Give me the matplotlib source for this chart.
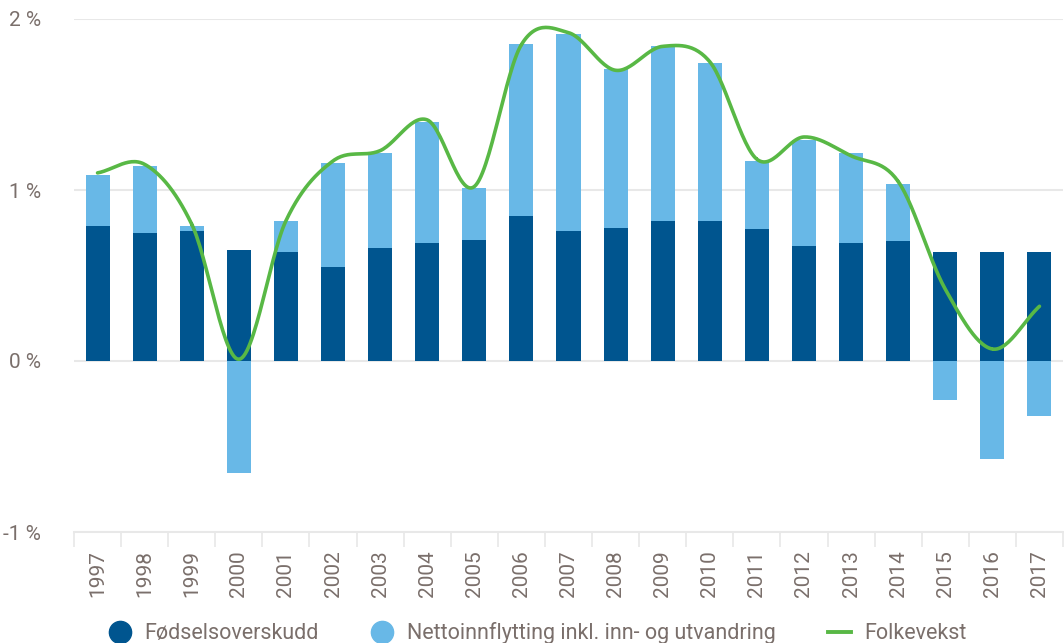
import numpy as np
import matplotlib
matplotlib.use("Agg")
import matplotlib.pyplot as plt
from matplotlib.lines import Line2D

# =====================
#   DATA
# =====================
years = [str(y) for y in range(1997, 2018)]
fodsel = [0.79, 0.75, 0.76, 0.65, 0.64, 0.55, 0.66, 0.69, 0.71, 0.85, 0.76,
          0.78, 0.82, 0.82, 0.77, 0.67, 0.69, 0.70, 0.64, 0.64, 0.64]
netto = [0.30, 0.39, 0.03, -0.655, 0.18, 0.61, 0.555, 0.71, 0.30, 1.005, 1.15,
         0.925, 1.025, 0.925, 0.40, 0.625, 0.525, 0.335, -0.23, -0.575, -0.32]
folkevekst = [1.10, 1.15, 0.80, 0.01, 0.82, 1.17, 1.23, 1.41, 1.02, 1.85, 1.92,
              1.70, 1.84, 1.75, 1.18, 1.31, 1.20, 1.05, 0.42, 0.07, 0.32]
yticks = [-1, 0, 1, 2]
ytick_labels = ["-1 %", "0 %", "1 %", "2 %"]

# =====================
#   STYLE
# =====================
DARK = "#00558f"
LIGHT = "#68b8e7"
GREEN = "#58b845"
TEXT = "#7a6f6b"
GRID = "#e8e8e8"
FS = 15
plt.rcParams['font.family'] = ['Roboto', 'DejaVu Sans']


def catmull_rom(x, y, n=30):
    # smooth curve passing through every point (like a spreadsheet "smoothed line")
    x = np.asarray(x, float)
    y = np.asarray(y, float)
    px = np.concatenate([[2 * x[0] - x[1]], x, [2 * x[-1] - x[-2]]])
    py = np.concatenate([[2 * y[0] - y[1]], y, [2 * y[-1] - y[-2]]])
    xs, ys = [], []
    t = np.linspace(0, 1, n)
    for i in range(1, len(px) - 2):
        for p, out in ((px[i - 1:i + 3], xs), (py[i - 1:i + 3], ys)):
            a, b, c, d = p
            out.append(0.5 * (2 * b + (-a + c) * t + (2 * a - 5 * b + 4 * c - d) * t ** 2
                              + (-a + 3 * b - 3 * c + d) * t ** 3))
    return np.concatenate(xs), np.concatenate(ys)


fig = plt.figure(figsize=(10.64, 6.43), dpi=100)
ax = fig.add_axes([74 / 1064, 1 - 532 / 643, 989 / 1064, (532 - 19) / 643])

x = np.arange(len(years))
fodsel = np.array(fodsel)
netto = np.array(netto)
bottom_netto = np.where(netto >= 0, fodsel, 0)

ax.bar(x, fodsel, width=0.51, color=DARK, zorder=2)
ax.bar(x, netto, width=0.51, bottom=bottom_netto, color=LIGHT, zorder=2)

sx, sy = catmull_rom(x, folkevekst)
ax.plot(sx, sy, color=GREEN, lw=2.6, zorder=3, solid_capstyle='round')

ax.set_xlim(-0.5, len(years) - 0.5)
ax.set_ylim(-1, 2)
ax.set_yticks(yticks)
ax.set_yticklabels(ytick_labels)
ax.yaxis.grid(True, color=GRID, lw=1.5, zorder=0)
ax.set_axisbelow(True)

# category separators below the axis
ax.set_xticks(np.arange(len(years) + 1) - 0.5)
ax.set_xticklabels([])
ax.set_xticks(x, minor=True)
ax.set_xticklabels(years, minor=True, rotation=90)
ax.tick_params(axis='x', which='major', length=11, width=1.2, color=GRID)
ax.tick_params(axis='x', which='minor', length=0, pad=13, labelsize=FS, labelcolor=TEXT)
ax.tick_params(axis='y', length=0, pad=24, labelsize=FS, labelcolor=TEXT)

for s in ["top", "right", "left"]:
    ax.spines[s].set_visible(False)
ax.spines["bottom"].set_color(GRID)
ax.spines["bottom"].set_linewidth(1.5)

handles = [
    Line2D([], [], marker='o', ls='', color=DARK, markersize=16),
    Line2D([], [], marker='o', ls='', color=LIGHT, markersize=16),
    Line2D([], [], color=GREEN, lw=2.8),
]
labels = ["Fødselsoverskudd", "Nettoinnflytting inkl. inn- og utvandring", "Folkevekst"]
leg = fig.legend(handles, labels, loc='lower center', bbox_to_anchor=(0.505, -0.032), ncol=3,
                 frameon=False, fontsize=FS + 0.5, handlelength=1.1, handletextpad=0.6,
                 columnspacing=2.4)
for t in leg.get_texts():
    t.set_color(TEXT)

fig.savefig("out.png", dpi=100)
